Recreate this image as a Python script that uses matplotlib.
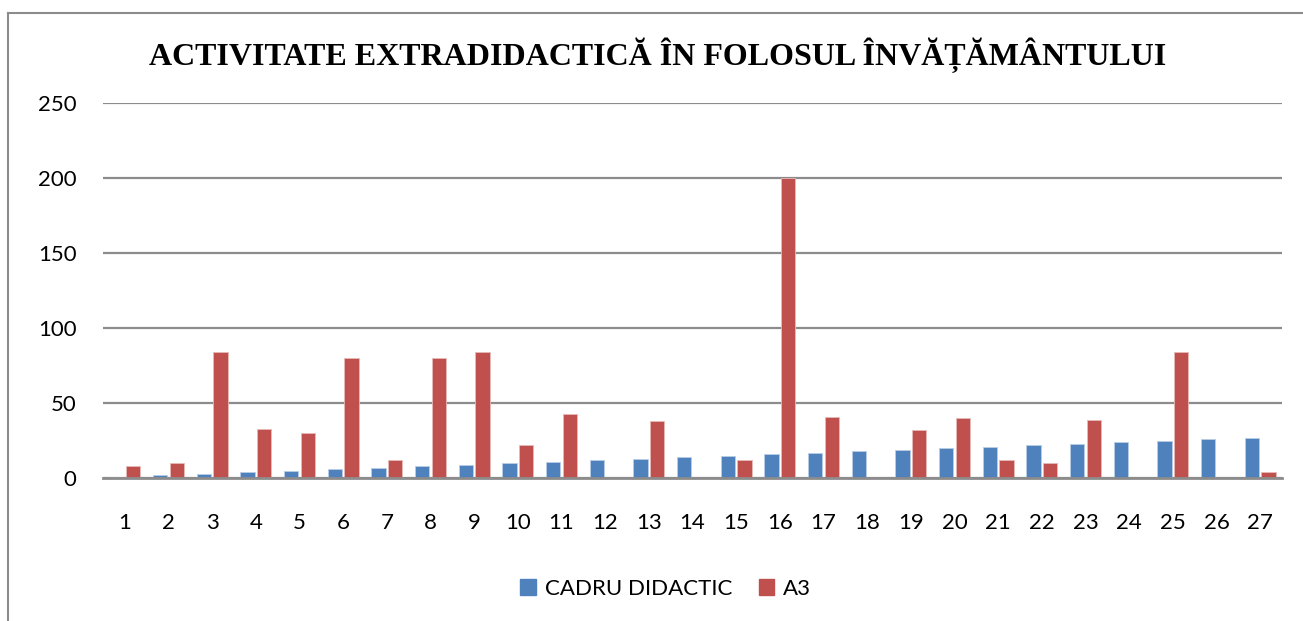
import numpy as np
import matplotlib.pyplot as plt
from matplotlib.lines import Line2D

categories = [str(i) for i in range(1, 28)]
cadru = [1, 2, 3, 4, 5, 6, 7, 8, 9, 10, 11, 12, 13, 14, 15, 16, 17, 18, 19, 20,
         21, 22, 23, 24, 25, 26, 27]
a3 = [8, 10, 84, 33, 30, 80, 12, 80, 84, 22, 43, 0, 38, 0, 12, 200, 41, 0, 32, 40,
      12, 10, 39, 0, 84, 0, 4]

blue = '#4f81bd'
red = '#c0504d'

fig = plt.figure(figsize=(13.03, 6.21), dpi=100)
ax = fig.add_axes([103 / 1303, 1 - 478 / 621, 1179 / 1303, 375 / 621])

x = np.arange(len(categories))
w = 0.33
ax.bar(x - 0.19, cadru, w, color=blue, edgecolor='#b9cde5', linewidth=0.6, zorder=3)
ax.bar(x + 0.19, a3, w, color=red, edgecolor='#e6b9b8', linewidth=0.6, zorder=3)

ax.set_xlim(-0.5, len(categories) - 0.5)
ax.set_ylim(0, 250)
ax.set_yticks([0, 50, 100, 150, 200, 250])
ax.set_xticks(x)
ax.set_xticklabels(categories)
ax.yaxis.grid(True, color='#8c8c8c', linewidth=1.6, zorder=0)
for s in ['top', 'right', 'left']:
    ax.spines[s].set_visible(False)
ax.spines['bottom'].set_color('#8c8c8c')
ax.spines['bottom'].set_linewidth(2)
ax.spines['bottom'].set_zorder(4)
ax.tick_params(axis='both', length=0, labelsize=16)
ax.tick_params(axis='x', pad=25)
ax.tick_params(axis='y', pad=19)
for lab in ax.get_xticklabels() + ax.get_yticklabels():
    lab.set_family('Lato')

fig.text(0.505, 1 - 55 / 621, 'ACTIVITATE EXTRADIDACTICĂ ÎN FOLOSUL ÎNVĂȚĂMÂNTULUI',
         ha='center', va='center', fontsize=23, fontweight='bold',
         family='Liberation Serif')

handles = [plt.Rectangle((0, 0), 1, 1, color=blue), plt.Rectangle((0, 0), 1, 1, color=red)]
fig.legend(handles, ['CADRU DIDACTIC', 'A3'], loc='center', bbox_to_anchor=(0.511, 1 - 589 / 621),
           ncol=2, frameon=False, prop={'family': 'Lato', 'size': 16},
           handlelength=0.7, handleheight=0.7, handletextpad=0.4, columnspacing=1.2)

# chart frame (top and left edges visible)
fig.add_artist(Line2D([8 / 1303, 8 / 1303], [0, 1 - 13 / 621], color='#8c8c8c', linewidth=1.5))
fig.add_artist(Line2D([8 / 1303, 1], [1 - 13 / 621, 1 - 13 / 621], color='#8c8c8c', linewidth=1.5))

fig.savefig('out.png', dpi=100)
